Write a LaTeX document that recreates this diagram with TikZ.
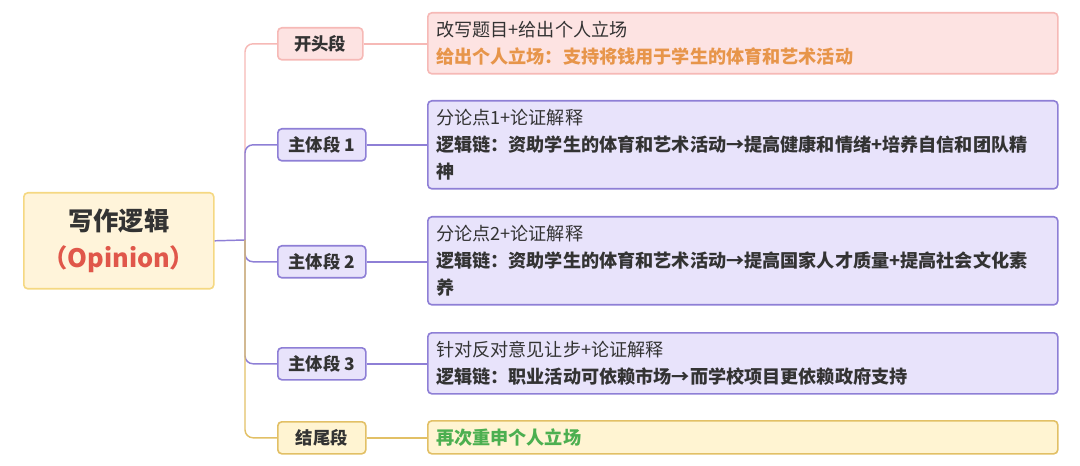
\documentclass[tikz,border=0pt]{standalone}
\usepackage{fontspec}
\setmainfont{Noto Sans CJK SC}
\usepackage{tikz}
\usetikzlibrary{positioning}
\definecolor{RootFill}{HTML}{FFF4DA}
\definecolor{RootLine}{HTML}{F5D882}
\definecolor{RootRed}{HTML}{E0574A}
\definecolor{PinkFill}{HTML}{FDE3E2}
\definecolor{PinkLine}{HTML}{F6B9B6}
\definecolor{PurpFill}{HTML}{E8E3FB}
\definecolor{PurpLine}{HTML}{8E7FD6}
\definecolor{GoldFill}{HTML}{FFF4D2}
\definecolor{GoldLine}{HTML}{E2C066}
\definecolor{OrangeTxt}{HTML}{E7954A}
\definecolor{GreenTxt}{HTML}{4CAF50}
\definecolor{DarkTxt}{HTML}{333333}
\tikzset{
  box/.style={rectangle, rounded corners=3pt, line width=1.2pt, inner sep=0pt, text=DarkTxt},
  part/.style={box, anchor=north west, font=\fontsize{13}{15}\selectfont\bfseries, minimum height=24pt},
  detail/.style={box, anchor=north west, minimum width=472.5pt, align=left, text width=460pt,
    font=\fontsize{13.6}{20}\selectfont},
  branch/.style={line width=1.1pt, rounded corners=6pt}
}
\begin{document}
\begin{tikzpicture}[x=0.75pt,y=-0.75pt]
  \useasboundingbox (0,0) rectangle (1080,466);
  % root
  \node (root) [box, anchor=north west, fill=RootFill, draw=RootLine, minimum width=142.5pt, minimum height=72pt,
    align=center, font=\fontsize{19}{28}\selectfont\bfseries] at (23,192) {写作逻辑\\{\color{RootRed}（Opinion）}};
  % level one
  \node (intro) [part, fill=PinkFill, draw=PinkLine, minimum width=63.75pt] at (277,27) {开头段};
  \node (body1) [part, fill=PurpFill, draw=PurpLine, minimum width=66pt] at (277,128) {主体段 1};
  \node (body2) [part, fill=PurpFill, draw=PurpLine, minimum width=66pt] at (277,245) {主体段 2};
  \node (body3) [part, fill=PurpFill, draw=PurpLine, minimum width=66pt] at (277,347) {主体段 3};
  \node (concl) [part, fill=GoldFill, draw=GoldLine, minimum width=66pt] at (277,421) {结尾段};
  % details
  \node (introtxt) [detail, fill=PinkFill, draw=PinkLine, minimum height=45.75pt] at (427,12)
    {改写题目+给出个人立场\\{\bfseries\color{OrangeTxt}给出个人立场：支持将钱用于学生的体育和艺术活动}};
  \node (body1txt) [detail, fill=PurpFill, draw=PurpLine, minimum height=66pt] at (427,100)
    {分论点1+论证解释\\{\bfseries 逻辑链：资助学生的体育和艺术活动→提高健康和情绪+培养自信和团队精\\神}};
  \node (body2txt) [detail, fill=PurpFill, draw=PurpLine, minimum height=66pt] at (427,216)
    {分论点2+论证解释\\{\bfseries 逻辑链：资助学生的体育和艺术活动→提高国家人才质量+提高社会文化素\\养}};
  \node (body3txt) [detail, fill=PurpFill, draw=PurpLine, minimum height=45.75pt] at (427,332)
    {针对反对意见让步+论证解释\\{\bfseries 逻辑链：职业活动可依赖市场→而学校项目更依赖政府支持}};
  \node (concltxt) [detail, fill=GoldFill, draw=GoldLine, minimum height=24.75pt] at (427,420)
    {{\bfseries\color{GreenTxt}再次重申个人立场}};
  % branches
  \coordinate (trunk) at (245,240);
  \draw [branch, draw=PurpLine] (root.east) -- (trunk);
  \draw [branch, draw=PinkLine] (trunk) |- (intro.west);
  \draw [branch, draw=PurpLine] (trunk) |- (body1.west);
  \draw [branch, draw=PurpLine] (trunk) |- (body2.west);
  \draw [branch, draw=PurpLine] (trunk) |- (body3.west);
  \draw [branch, draw=GoldLine] (trunk) |- (concl.west);
  \draw [branch, draw=PinkLine] (intro) -- (introtxt.west |- intro);
  \draw [branch, draw=PurpLine] (body1) -- (body1txt.west |- body1);
  \draw [branch, draw=PurpLine] (body2) -- (body2txt.west |- body2);
  \draw [branch, draw=PurpLine] (body3) -- (body3txt.west |- body3);
  \draw [branch, draw=GoldLine] (concl) -- (concltxt.west |- concl);
\end{tikzpicture}
\end{document}
